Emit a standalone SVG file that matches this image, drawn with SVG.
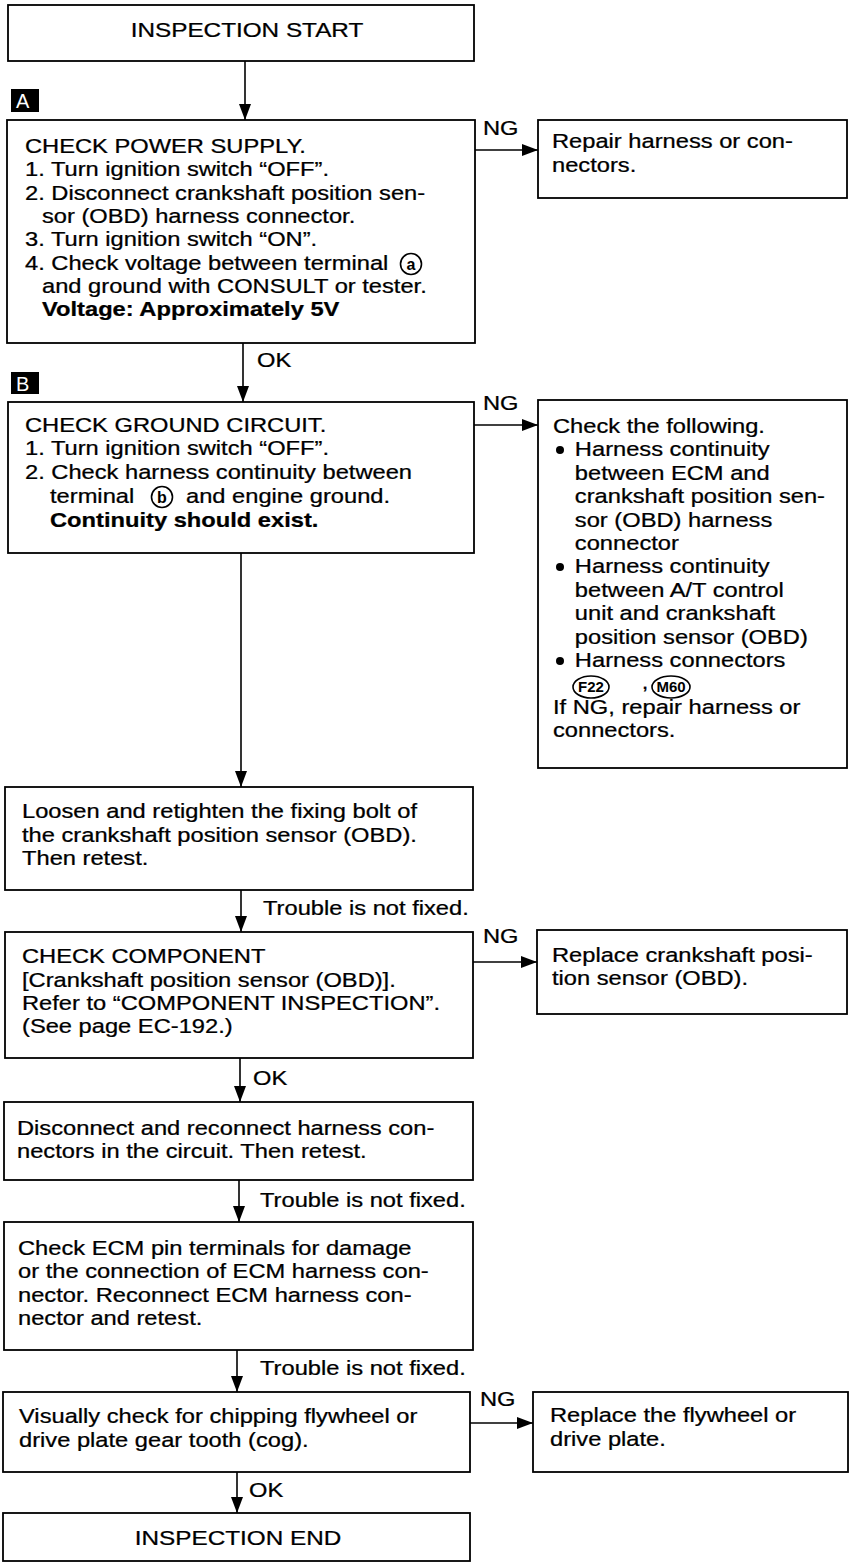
<svg xmlns="http://www.w3.org/2000/svg" width="850" height="1564" viewBox="0 0 850 1564">
<style>
.box{fill:#fff;stroke:#000;stroke-width:1.8}
.t{font-family:"Liberation Sans",Arial,sans-serif;font-size:19.5px;fill:#000;stroke:#000;stroke-width:0.25}
.bd{font-weight:bold}
.ln{stroke:#000;stroke-width:1.6;fill:none;marker-end:url(#ah)}
.cir{fill:none;stroke:#000;stroke-width:1.6}
.tag{fill:#000}
.tagt{font-family:"Liberation Sans",Arial,sans-serif;font-size:20px;fill:#fff}
.ck{font-family:"Liberation Sans",Arial,sans-serif;font-size:16px;font-weight:bold;fill:#000;text-anchor:middle}
.ck2{font-family:"Liberation Sans",Arial,sans-serif;font-size:15px;font-weight:bold;fill:#000;text-anchor:middle}
</style>
<defs>
<marker id="ah" markerWidth="16" markerHeight="12" refX="16" refY="6" orient="auto" markerUnits="userSpaceOnUse" viewBox="0 0 16 12">
<path d="M0,0 L16,6 L0,12 z" fill="#000"/>
</marker>
</defs>
<rect width="850" height="1564" fill="#fff"/>

<g id="connectors">
<line class="ln" x1="245" y1="61" x2="245" y2="120"/>
<line class="ln" x1="243" y1="343" x2="243" y2="402"/>
<line class="ln" x1="241" y1="553" x2="241" y2="787"/>
<line class="ln" x1="241" y1="890" x2="241" y2="932"/>
<line class="ln" x1="240" y1="1058" x2="240" y2="1102"/>
<line class="ln" x1="239" y1="1180" x2="239" y2="1222"/>
<line class="ln" x1="237" y1="1350" x2="237" y2="1392"/>
<line class="ln" x1="237" y1="1472" x2="237" y2="1513"/>
<line class="ln" x1="474" y1="150" x2="538" y2="150"/>
<line class="ln" x1="474" y1="425" x2="538" y2="425"/>
<line class="ln" x1="473" y1="962" x2="537" y2="962"/>
<line class="ln" x1="470" y1="1423" x2="533" y2="1423"/>
<g class="t">
<text transform="translate(257,367) scale(1.215,1)">OK</text>
<text transform="translate(253,1085) scale(1.215,1)">OK</text>
<text transform="translate(249,1497) scale(1.215,1)">OK</text>
<text transform="translate(483,135) scale(1.215,1)">NG</text>
<text transform="translate(483,410) scale(1.215,1)">NG</text>
<text transform="translate(483,943) scale(1.215,1)">NG</text>
<text transform="translate(480,1406) scale(1.215,1)">NG</text>
<text transform="translate(263,915) scale(1.215,1)">Trouble is not fixed.</text>
<text transform="translate(260,1207) scale(1.215,1)">Trouble is not fixed.</text>
<text transform="translate(260,1375) scale(1.215,1)">Trouble is not fixed.</text>
</g>
</g>

<g id="start">
<rect class="box" x="8" y="5" width="466" height="56"/>
<text class="t" transform="translate(247,37) scale(1.215,1)" text-anchor="middle" style="font-size:20px">INSPECTION START</text>
</g>

<g id="tagA">
<rect class="tag" x="11" y="89" width="28" height="23"/>
<text class="tagt" x="16" y="108">A</text>
</g>

<g id="checkPower">
<rect class="box" x="7" y="120" width="468" height="223"/>
<g class="t" transform="translate(25,0) scale(1.215,1)">
<text y="153">CHECK POWER SUPPLY.</text>
<text y="176.5">1. Turn ignition switch “OFF”.</text>
<text y="200">2. Disconnect crankshaft position sen-</text>
<text x="14" y="223">sor (OBD) harness connector.</text>
<text y="246.5">3. Turn ignition switch “ON”.</text>
<text y="270">4. Check voltage between terminal</text>
<text x="14" y="293">and ground with CONSULT or tester.</text>
<text x="14" y="316" class="bd">Voltage: Approximately 5V</text>
</g>
<circle class="cir" cx="411" cy="264" r="10.5"/>
<text class="ck" x="411" y="270">a</text>
</g>

<g id="repair1">
<rect class="box" x="538" y="120" width="309" height="78"/>
<g class="t" transform="translate(552,0) scale(1.215,1)">
<text y="148">Repair harness or con-</text>
<text y="172">nectors.</text>
</g>
</g>

<g id="tagB">
<rect class="tag" x="11" y="372" width="28" height="22"/>
<text class="tagt" x="16" y="391">B</text>
</g>

<g id="checkGround">
<rect class="box" x="8" y="402" width="466" height="151"/>
<g class="t" transform="translate(25,0) scale(1.215,1)">
<text y="432">CHECK GROUND CIRCUIT.</text>
<text y="455.5">1. Turn ignition switch “OFF”.</text>
<text y="479">2. Check harness continuity between</text>
<text x="20.6" y="503">terminal</text>
<text x="132.5" y="503">and engine ground.</text>
<text x="20.6" y="527" class="bd">Continuity should exist.</text>
</g>
<circle class="cir" cx="162" cy="497" r="10.5"/>
<text class="ck" x="162" y="503">b</text>
</g>

<g id="checkFollowing">
<rect class="box" x="538" y="400" width="309" height="368"/>
<g class="t" transform="translate(553,0) scale(1.215,1)">
<text y="433">Check the following.</text>
<text x="18" y="456.4">Harness continuity</text>
<text x="18" y="479.8">between ECM and</text>
<text x="18" y="503.2">crankshaft position sen-</text>
<text x="18" y="526.6">sor (OBD) harness</text>
<text x="18" y="550">connector</text>
<text x="18" y="573.4">Harness continuity</text>
<text x="18" y="596.8">between A/T control</text>
<text x="18" y="620.2">unit and crankshaft</text>
<text x="18" y="643.6">position sensor (OBD)</text>
<text x="18" y="667">Harness connectors</text>
<text x="73" y="689">,</text>
<text y="713.8">If NG, repair harness or</text>
<text y="737.2">connectors.</text>
</g>
<circle cx="560" cy="450" r="4"/>
<circle cx="560" cy="567" r="4"/>
<circle cx="560" cy="661" r="4"/>
<ellipse class="cir" cx="591" cy="687" rx="18" ry="11"/>
<text class="ck2" x="591" y="692">F22</text>
<ellipse class="cir" cx="671" cy="687" rx="19" ry="11"/>
<text class="ck2" x="671" y="692">M60</text>
</g>

<g id="loosen">
<rect class="box" x="5" y="787" width="468" height="103"/>
<g class="t" transform="translate(22,0) scale(1.215,1)">
<text y="818">Loosen and retighten the fixing bolt of</text>
<text y="842">the crankshaft position sensor (OBD).</text>
<text y="865">Then retest.</text>
</g>
</g>

<g id="checkComponent">
<rect class="box" x="5" y="932" width="468" height="126"/>
<g class="t" transform="translate(22,0) scale(1.215,1)">
<text y="963">CHECK COMPONENT</text>
<text y="987">[Crankshaft position sensor (OBD)].</text>
<text y="1010">Refer to “COMPONENT INSPECTION”.</text>
<text y="1033">(See page EC-192.)</text>
</g>
</g>

<g id="replaceSensor">
<rect class="box" x="537" y="930" width="310" height="84"/>
<g class="t" transform="translate(552,0) scale(1.215,1)">
<text y="962">Replace crankshaft posi-</text>
<text y="985.5">tion sensor (OBD).</text>
</g>
</g>

<g id="disconnect">
<rect class="box" x="4" y="1102" width="469" height="78"/>
<g class="t" transform="translate(17,0) scale(1.215,1)">
<text y="1135">Disconnect and reconnect harness con-</text>
<text y="1158">nectors in the circuit. Then retest.</text>
</g>
</g>

<g id="checkECM">
<rect class="box" x="4" y="1222" width="469" height="128"/>
<g class="t" transform="translate(18,0) scale(1.215,1)">
<text y="1255">Check ECM pin terminals for damage</text>
<text y="1278">or the connection of ECM harness con-</text>
<text y="1302">nector. Reconnect ECM harness con-</text>
<text y="1325">nector and retest.</text>
</g>
</g>

<g id="visual">
<rect class="box" x="3" y="1392" width="467" height="80"/>
<g class="t" transform="translate(19,0) scale(1.215,1)">
<text y="1423">Visually check for chipping flywheel or</text>
<text y="1447">drive plate gear tooth (cog).</text>
</g>
</g>

<g id="replaceFlywheel">
<rect class="box" x="533" y="1392" width="315" height="80"/>
<g class="t" transform="translate(550,0) scale(1.215,1)">
<text y="1422">Replace the flywheel or</text>
<text y="1446">drive plate.</text>
</g>
</g>

<g id="end">
<rect class="box" x="3" y="1513" width="467" height="48"/>
<text class="t" transform="translate(238,1545) scale(1.215,1)" text-anchor="middle" style="font-size:20px">INSPECTION END</text>
</g>
</svg>
